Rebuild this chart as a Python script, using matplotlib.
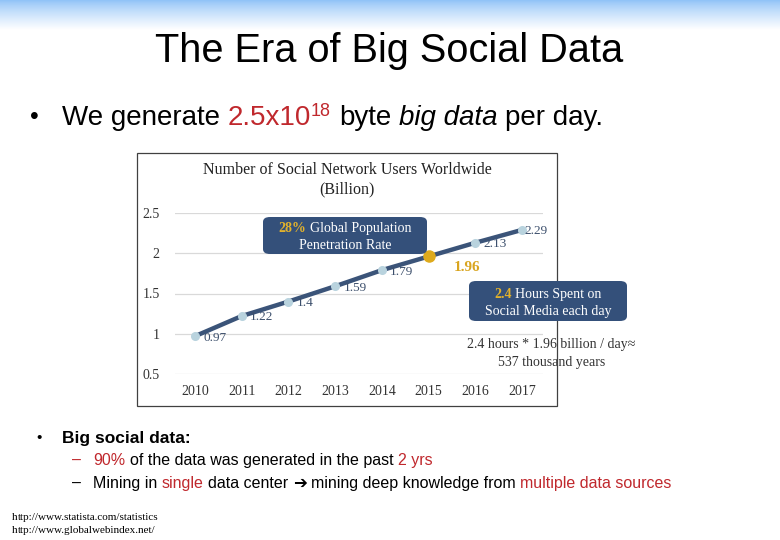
import numpy as np
import matplotlib
matplotlib.use("Agg")
import matplotlib.pyplot as plt
from matplotlib.patches import Rectangle, FancyBboxPatch

# data
years = [2010, 2011, 2012, 2013, 2014, 2015, 2016, 2017]
users = [0.97, 1.22, 1.4, 1.59, 1.79, 1.96, 2.13, 2.29]
highlight_year = 2015
yticks = [0.5, 1, 1.5, 2, 2.5]

chart_title = ["Number of Social Network Users Worldwide", "(Billion)"]
box1_lines = [[("28%", "gold"), (" Global Population", "white")],
              [("Penetration Rate", "white")]]
box2_lines = [[("2.4", "gold"), (" Hours Spent on", "white")],
              [("Social Media each day", "white")]]
note_lines = ["2.4 hours * 1.96 billion / day\u2248", "537 thousand years"]
sources = ["http://www.statista.com/statistics", "http://www.globalwebindex.net/"]

W, H = 780, 540
RED = "#c0282d"
NAVY = "#3b5479"
BOXC = "#34507a"
GOLD = "#e2b22c"
SANS = ["Liberation Sans", "DejaVu Sans"]
SERIF = ["Liberation Serif", "DejaVu Serif"]

fig = plt.figure(figsize=(7.8, 5.4), dpi=100)
fig.patch.set_facecolor("white")


def fx(x):
    return x / W


def fy(y):
    return 1 - y / H


renderer = fig.canvas.get_renderer()


def text_width(s, kw):
    t = fig.text(0, 0, s, **kw)
    w = t.get_window_extent(renderer).width
    t.remove()
    return w


def draw_line(x, y, segs, ha="left", zorder=5):
    # draws one line made of differently styled pieces
    items = []
    total = 0
    for s, kw in segs:
        kw = dict(kw)
        rise = kw.pop("rise", 0)
        core = s.strip()
        lead = len(s) - len(s.lstrip())
        trail = len(s) - len(s.rstrip())
        sp = text_width("a a", kw) - text_width("aa", kw) if (lead or trail) else 0
        t = fig.text(0, fy(y - rise), core, va="baseline", zorder=zorder, **kw)
        w = t.get_window_extent(renderer).width if core else 0
        items.append((t, lead * sp, w, trail * sp))
        total += lead * sp + w + trail * sp
    cur = x - total / 2 if ha == "center" else x
    for t, l, w, tr in items:
        cur += l
        t.set_x(fx(cur))
        cur += w + tr


# top gradient band
band = fig.add_axes([0, fy(30), 1, 30 / H])
grad = np.linspace(0, 1, 64).reshape(-1, 1)
top = np.array([0.56, 0.76, 0.97])
rgb = top + (1 - top) * grad ** 0.8
band.imshow(rgb.reshape(64, 1, 3), aspect="auto", extent=[0, 1, 0, 1])
band.axis("off")

# slide title and first bullet
fig.text(fx(389), fy(62), "The Era of Big Social Data", ha="center", va="baseline",
         fontsize=28.6, family=SANS)
fig.text(fx(30), fy(124), "\u2022", va="baseline", fontsize=18, family=SANS)
k = dict(fontsize=20, family=SANS)
draw_line(62, 125, [("We generate ", k),
                    ("2.5x10", dict(k, color=RED)),
                    ("18", dict(fontsize=13, family=SANS, color=RED, rise=9)),
                    (" byte ", k),
                    ("big data", dict(k, style="italic")),
                    (" per day.", k)])

# chart frame
fig.add_artist(Rectangle((fx(137), fy(406)), (557 - 137) / W, (406 - 153) / H,
                         transform=fig.transFigure, fill=False, ec="#404040", lw=0.9, zorder=3))

fig.text(fx(347), fy(174), chart_title[0], ha="center", va="baseline", fontsize=11.5,
         family=SERIF, color="#222222")
fig.text(fx(347), fy(193), chart_title[1], ha="center", va="baseline", fontsize=11.5,
         family=SERIF, color="#222222")

# axes placed so grid lines land where they are on the slide
ax_l, ax_r, ax_t, ax_b = 175, 543, 213, 374
ax = fig.add_axes([fx(ax_l), fy(ax_b), (ax_r - ax_l) / W, (ax_b - ax_t) / H])
ax.set_xlim(2009.572, 2017.45)
ax.set_ylim(0.5, 2.5)
ax.set_facecolor("none")
for s in ax.spines.values():
    s.set_visible(False)
ax.set_yticks(yticks)
ax.set_yticklabels(["0.5", "1", "1.5", "2", "2.5"])
ax.set_xticks(years)
ax.grid(axis="y", color="#d9d9d9", lw=0.9)
ax.set_axisbelow(True)
ax.tick_params(length=0, labelsize=10, labelcolor="#333333")
ax.tick_params(axis="y", pad=11)
ax.tick_params(axis="x", pad=8)
for lab in ax.get_xticklabels() + ax.get_yticklabels():
    lab.set_family(SERIF)

ax.plot(years, users, color=NAVY, lw=3.2, solid_capstyle="round", zorder=3,
        marker="o", ms=5.5, mfc="#b9d3de", mec="#b9d3de", clip_on=False)
hi = years.index(highlight_year)
ax.plot([years[hi]], [users[hi]], "o", ms=8, color="#deaa1c", zorder=4, clip_on=False)

for i, (yr, v) in enumerate(zip(years, users)):
    if i == hi:
        ax.annotate(f"{v:g}", (yr, v), xytext=(18, -8), textcoords="offset points",
                    va="center", ha="left", fontsize=11, fontweight="bold",
                    color="#d9a520", family=SERIF)
    else:
        dx = 2 if i == len(years) - 1 else 6
        ax.annotate(f"{v:g}", (yr, v), xytext=(dx, -1), textcoords="offset points",
                    va="center", ha="left", fontsize=9.5, color="#3c4f6c", family=SERIF,
                    zorder=5)


# callout boxes
def callout(x0, y0, x1, y1, lines, cx, ys):
    fig.add_artist(FancyBboxPatch((fx(x0), fy(y1)), (x1 - x0) / W, (y1 - y0) / H,
                                  boxstyle="round,pad=0,rounding_size=0.009",
                                  transform=fig.transFigure, fc=BOXC, ec="none", zorder=6))
    for line, yb in zip(lines, ys):
        segs = []
        for s, c in line:
            if c == "gold":
                segs.append((s, dict(fontsize=10, family=SERIF, color=GOLD, fontweight="bold")))
            else:
                segs.append((s, dict(fontsize=10, family=SERIF, color="white")))
        draw_line(cx, yb, segs, ha="center", zorder=7)


callout(263, 217, 427, 254, box1_lines, 345, [232, 249])
callout(469, 281, 627, 321, box2_lines, 548, [298, 315])

fig.text(fx(551), fy(348), note_lines[0], ha="center", va="baseline", fontsize=10,
         family=SERIF, color="#333333", zorder=2)
fig.text(fx(552), fy(366), note_lines[1], ha="center", va="baseline", fontsize=10,
         family=SERIF, color="#333333", zorder=2)

# lower bullets
fig.text(fx(36), fy(442), "\u2022", va="baseline", fontsize=11, family=SANS)
fig.text(fx(62), fy(443), "Big social data:", va="baseline", fontsize=12.5,
         fontweight="bold", family=SANS)
kb = dict(fontsize=11.5, family=SANS)
fig.text(fx(72), fy(465), "\u2013", va="baseline", color=RED, **kb)
draw_line(93, 465, [("90%", dict(kb, color=RED)),
                    (" of the data was generated in the past ", kb),
                    ("2 yrs", dict(kb, color=RED))])
fig.text(fx(72), fy(488), "\u2013", va="baseline", **kb)
draw_line(93, 488, [("Mining in ", kb),
                    ("single", dict(kb, color=RED)),
                    (" data center ", kb),
                    ("\u2794", dict(fontsize=12, family=["DejaVu Sans"], rise=0)),
                    (" mining deep knowledge from ", kb),
                    ("multiple data sources", dict(kb, color=RED))])

# source urls, split after the first letter to keep the "ht" pair from colliding
ks = dict(fontsize=8, family="Liberation Serif")
draw_line(12, 520, [(sources[0][:1], ks), (sources[0][1:], ks)])
draw_line(12, 533, [(sources[1][:1], ks), (sources[1][1:], ks)])

fig.savefig("out.png", dpi=100)
